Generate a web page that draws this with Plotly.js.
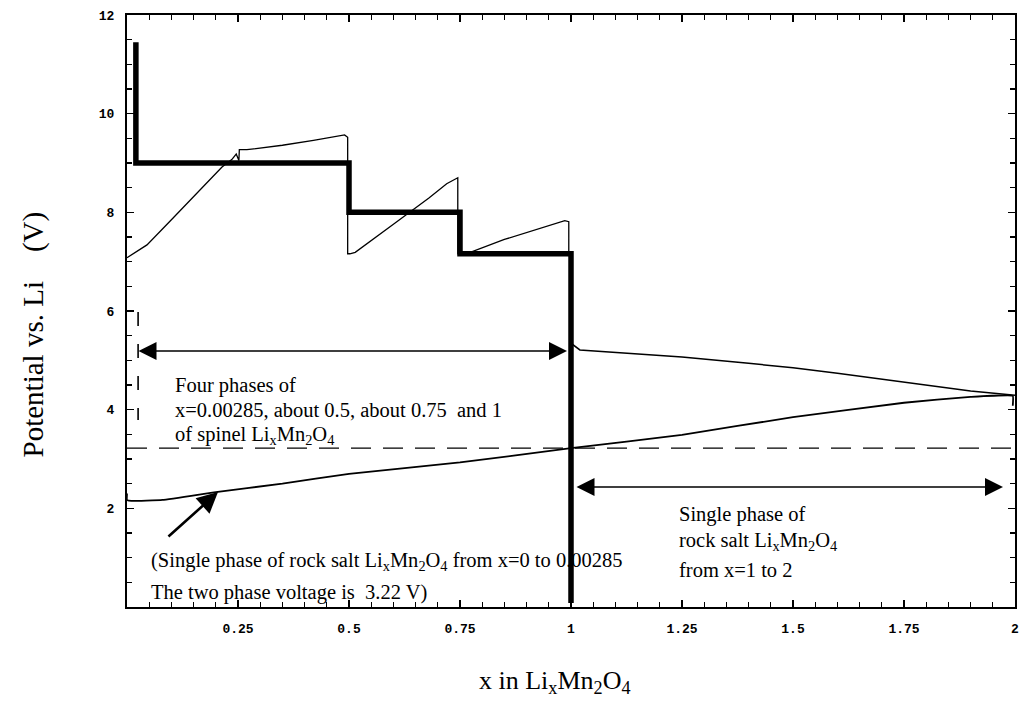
<!DOCTYPE html>
<html>
<head>
<meta charset="utf-8">
<script src="https://cdn.plot.ly/plotly-3.0.1.min.js"></script>
<style>html,body{margin:0;padding:0;background:#fff;}#chart{width:1021px;height:701px;}</style>
</head>
<body>
<div id="chart"></div>
<script>
// Equilibrium (thick step) potential
const stepX = [0.02, 0.02, 0.5, 0.5, 0.75, 0.75, 1.0, 1.0];
const stepY = [11.45, 9.0, 9.0, 8.0, 8.0, 7.16, 7.16, 0.08];

// Thin charge curve over spinel region (x = 0 to 1)
const chargeX = [0, 0.045, 0.1, 0.15, 0.214, 0.236, 0.246, 0.252, 0.253, 0.27, 0.35, 0.42, 0.49, 0.497, 0.497,
                 0.502, 0.514, 0.6, 0.68, 0.72, 0.739, 0.745, 0.745,
                 0.77, 0.85, 0.92, 0.986, 0.995, 0.995, 1.0];
const chargeY = [7.08, 7.34, 7.85, 8.32, 8.92, 9.07, 9.18, 9.05, 9.27, 9.27, 9.36, 9.46, 9.57, 9.52, 7.16,
                 7.16, 7.19, 7.76, 8.29, 8.58, 8.68, 8.70, 7.16,
                 7.18, 7.45, 7.65, 7.83, 7.81, 7.16, 7.16];

// Upper curve, rock salt region (x = 1 to 2)
const upperX = [1.0, 1.004, 1.02, 1.1, 1.25, 1.4, 1.5, 1.6, 1.75, 1.9, 2.0];
const upperY = [5.28, 5.32, 5.21, 5.16, 5.07, 4.94, 4.85, 4.74, 4.56, 4.38, 4.29];

// Lower curve (x = 0 to 2)
const lowerX = [0.0, 0.0, 0.01, 0.08, 0.2, 0.35, 0.5, 0.75, 1.0, 1.25, 1.5, 1.75, 1.9, 1.995, 1.995];
const lowerY = [2.3, 2.17, 2.15, 2.17, 2.33, 2.5, 2.7, 2.93, 3.22, 3.49, 3.85, 4.14, 4.26, 4.28, 4.08];

// Two-phase voltage (dashed) and marker line at x = 0.00285
const twoPhaseX = [0, 2];
const twoPhaseY = [3.22, 3.22];
const markX = [0.025, 0.025];
const markY = [5.98, 3.79];

// Tick labels
const xTickVals = [0.25, 0.5, 0.75, 1, 1.25, 1.5, 1.75, 2];
const xTickText = ['0.25', '0.5', '0.75', '1', '1.25', '1.5', '1.75', '2'];
const yTickVals = [2, 4, 6, 8, 10, 12];
const yTickText = ['2', '4', '6', '8', '10', '12'];

const black = '#000';
const serif = 'Liberation Serif, Times New Roman, serif';
const mono = 'Liberation Mono, Courier New, monospace';

const traces = [
  {x: twoPhaseX, y: twoPhaseY, mode: 'lines', line: {color: black, width: 1.3, dash: '20px,12px'}},
  {x: markX, y: markY, mode: 'lines', line: {color: black, width: 1.6, dash: '14px,18px'}},
  {x: lowerX, y: lowerY, mode: 'lines', line: {color: black, width: 1.8, shape: 'spline', smoothing: 0.3}},
  {x: upperX, y: upperY, mode: 'lines', line: {color: black, width: 1.5}},
  {x: chargeX, y: chargeY, mode: 'lines', line: {color: black, width: 1.3}},
  {x: stepX, y: stepY, mode: 'lines', line: {color: black, width: 5.5}}
];

const txt = (t, x, y) => ({
  text: t, x: x, y: y, xref: 'x', yref: 'y', showarrow: false,
  xanchor: 'left', yanchor: 'middle', align: 'left',
  font: {family: serif, size: 20.5, color: black}
});
const LMO = 'Li<sub>x</sub>Mn<sub>2</sub>O<sub>4</sub>';

const annotations = [
  txt('Four phases of', 0.104, 4.5),
  txt('x=0.00285, about 0.5, about 0.75\u00a0 and 1', 0.104, 4.0),
  txt('of spinel ' + LMO, 0.104, 3.47),
  txt('(Single phase of rock salt ' + LMO + ' from x=0 to 0.00285', 0.05, 0.92),
  txt('The two phase voltage is\u00a0 3.22 V)', 0.05, 0.3),
  txt('Single phase of', 1.239, 1.87),
  txt('rock salt ' + LMO, 1.239, 1.33),
  txt('from x=1 to 2', 1.239, 0.75),
  // double arrow, spinel region
  {x: 0.991, y: 5.19, ax: 0.0225, ay: 5.19, xref: 'x', yref: 'y', axref: 'x', ayref: 'y',
   text: '', showarrow: true, arrowhead: 2, startarrowhead: 2, arrowside: 'end+start',
   arrowsize: 2.4, startarrowsize: 2.4, arrowwidth: 1.5, arrowcolor: black},
  // double arrow, rock salt region
  {x: 1.973, y: 2.43, ax: 1.009, ay: 2.43, xref: 'x', yref: 'y', axref: 'x', ayref: 'y',
   text: '', showarrow: true, arrowhead: 2, startarrowhead: 2, arrowside: 'end+start',
   arrowsize: 2.4, startarrowsize: 2.4, arrowwidth: 1.5, arrowcolor: black},
  // pointer to lower curve
  {x: 0.205, y: 2.33, ax: 0.09, ay: 1.4, xref: 'x', yref: 'y', axref: 'x', ayref: 'y',
   text: '', showarrow: true, arrowhead: 2, arrowsize: 1.6, arrowwidth: 2.6, arrowcolor: black},
  // axis titles
  {text: 'x in ' + LMO, xref: 'paper', yref: 'paper', x: 0.482, y: -0.127, showarrow: false,
   xanchor: 'center', yanchor: 'middle', font: {family: serif, size: 26, color: black}},
  {text: 'Potential vs. Li\u00a0\u00a0\u00a0\u00a0(V)', xref: 'paper', yref: 'paper', x: -0.105, y: 0.46,
   showarrow: false, textangle: -90, xanchor: 'center', yanchor: 'middle',
   font: {family: serif, size: 29, color: black}}
];

const axisCommon = {
  showline: true, linecolor: black, linewidth: 2, mirror: 'ticks',
  ticks: 'inside', ticklen: 7, tickwidth: 1.5, tickcolor: black,
  showgrid: false, zeroline: false, tickmode: 'array',
  tickfont: {family: mono, size: 13, color: black, weight: 'bold'}
};

const layout = {
  width: 1021, height: 701,
  margin: {l: 127, r: 6, t: 15, b: 94},
  paper_bgcolor: '#fff', plot_bgcolor: '#fff',
  showlegend: false,
  xaxis: Object.assign({}, axisCommon, {
    range: [0, 2], tickvals: xTickVals, ticktext: xTickText, ticklabelstandoff: 8,
    minor: {tickmode: 'linear', dtick: 0.05, tick0: 0, ticks: 'inside', ticklen: 5, tickwidth: 1.3, tickcolor: black, showgrid: false}
  }),
  yaxis: Object.assign({}, axisCommon, {
    range: [0, 12], tickvals: yTickVals, ticktext: yTickText, ticklabelstandoff: 8,
    minor: {tickmode: 'linear', dtick: 0.5, tick0: 0, ticks: 'inside', ticklen: 5, tickwidth: 1.3, tickcolor: black, showgrid: false}
  }),
  annotations: annotations
};

Plotly.newPlot('chart', traces, layout, {displayModeBar: false, staticPlot: true});
</script>
</body>
</html>
